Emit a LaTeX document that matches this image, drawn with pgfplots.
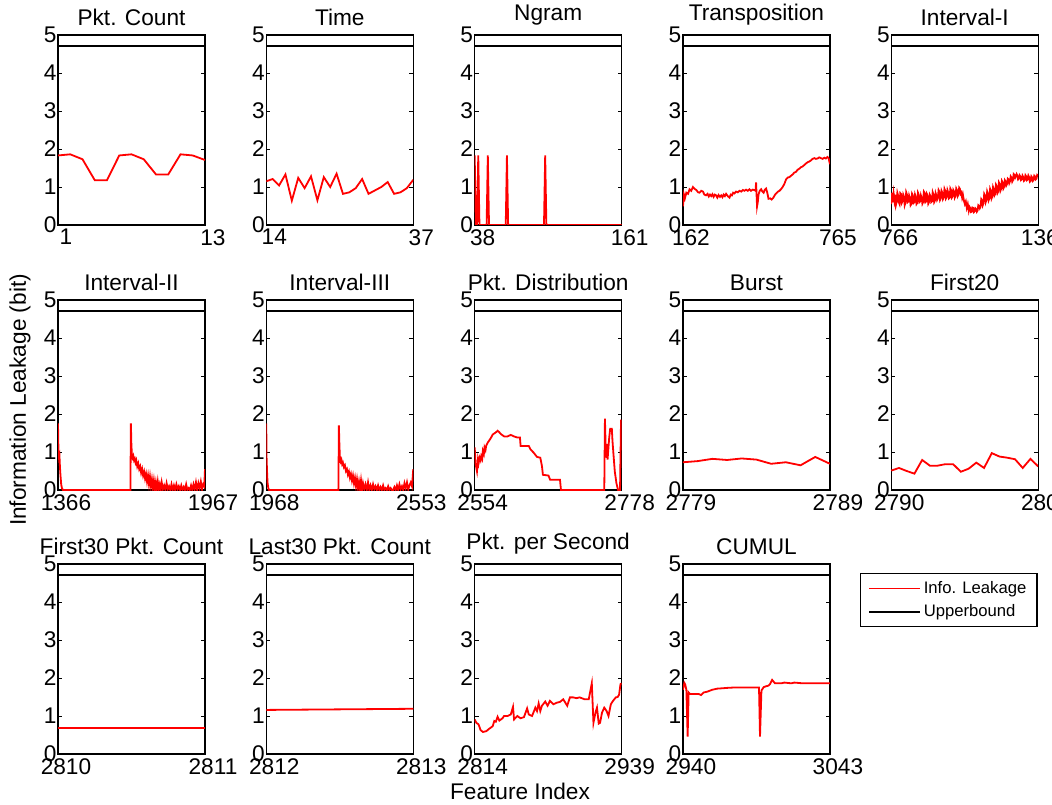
\documentclass[border=0pt]{standalone}
\usepackage{fontspec}
\setmainfont{Liberation Sans}
\usepackage{pgfplots}
\pgfplotsset{compat=1.18}
\pgfplotsset{
  leak/.style={scale only axis, width=110.25pt, height=142.5pt, anchor=south west,
    ymin=0, ymax=5, ytick={0,1,2,3,4,5}, tick align=inside, major tick length=3pt,
    axis line style={line width=0.9pt}, every tick/.style={black,line width=0.7pt},
    tick label style={font=\fontsize{17}{17}\selectfont, inner sep=1pt},
    yticklabel style={xshift=0pt}, xticklabel style={yshift=-2pt, xshift=6pt},
    title style={font=\fontsize{17}{17}\selectfont, yshift=-2.5pt},
    scaled x ticks=false, /pgf/number format/1000 sep={},
    /pgf/number format/assume math mode=true},
  inf/.style={red, line width=1.35pt},
  ub/.style={black, line width=1.5pt}}
\begin{document}
\begin{tikzpicture}
\useasboundingbox (0,0) rectangle (789pt,603pt);
\clip (0,0) rectangle (789pt,603pt);
% row 1
\begin{axis}[leak, at={(43.5pt,434.25pt)}, xmin=1, xmax=13, xtick={1,13}, title={Pkt. Count}]
\addplot[inf] coordinates {(1,1.83)(2,1.86)(3,1.73)(4,1.18)(5,1.18)(6,1.83)(7,1.86)(8,1.73)(9,1.33)(10,1.33)(11,1.86)(12,1.83)(13,1.71)};
\addplot[ub] coordinates {(1,4.7)(13,4.7)};
\end{axis}
\begin{axis}[leak, at={(199.7pt,434.25pt)}, xmin=14, xmax=37, xtick={14,37}, title={Time}]
\addplot[inf] coordinates {(14,1.15)(15,1.21)(16,1.04)(17,1.33)(18,0.64)(19,1.24)(20,0.97)(21,1.28)(22,0.65)(23,1.26)(24,1.0)(25,1.35)(26,0.82)(27,0.86)(28,0.97)(29,1.21)(30,0.82)(31,0.91)(32,1.0)(33,1.13)(34,0.82)(35,0.86)(36,0.97)(37,1.19)};
\addplot[ub] coordinates {(14,4.7)(37,4.7)};
\end{axis}
\begin{axis}[leak, at={(356pt,434.25pt)}, xmin=38, xmax=161, xtick={38,161}, title={Ngram}]
\addplot[inf] coordinates {(38,1.83)(39,0)(40,0)(41,1.83)(42,0)(48,0)(49,1.83)(50,0)(64,0)(65,1.83)(66,0)(96,0)(97,1.83)(98,0)(161,0)};
\addplot[ub] coordinates {(38,4.7)(161,4.7)};
\end{axis}
\begin{axis}[leak, at={(512.2pt,434.25pt)}, xmin=162, xmax=765, xtick={162,765}, title={Transposition}]
\addplot[inf] coordinates {(162,0.49)(166,0.8)(170,0.7)(176,0.85)(183,0.82)(189,0.94)(196,0.9)(203,1.0)(210,0.95)(217,0.92)(224,0.86)(230,0.85)(237,0.9)(244,0.88)(250,0.8)(257,0.78)(263,0.82)(268,0.75)(273,0.8)(278,0.76)(283,0.81)(288,0.74)(293,0.8)(298,0.78)(303,0.72)(308,0.79)(314,0.74)(319,0.78)(324,0.73)(329,0.8)(334,0.76)(339,0.82)(346,0.76)(353,0.72)(358,0.8)(363,0.78)(368,0.85)(373,0.83)(380,0.88)(387,0.86)(394,0.9)(401,0.88)(408,0.92)(414,0.9)(421,0.93)(428,0.9)(435,0.94)(441,0.9)(448,0.93)(455,0.92)(460,0.9)(462,1.12)(464,0.8)(466,0.49)(469,0.6)(472,0.8)(477,0.9)(483,0.94)(488,0.88)(493,0.85)(498,0.93)(503,0.96)(508,0.85)(513,0.69)(520,0.7)(526,0.67)(533,0.72)(540,0.8)(546,0.84)(552,0.88)(558,0.9)(564,0.94)(571,1.0)(578,1.08)(585,1.2)(592,1.25)(599,1.26)(606,1.3)(612,1.33)(619,1.38)(626,1.4)(632,1.45)(639,1.48)(646,1.52)(653,1.54)(660,1.58)(667,1.62)(673,1.65)(680,1.67)(687,1.7)(694,1.74)(701,1.76)(707,1.74)(714,1.75)(721,1.78)(728,1.76)(735,1.74)(742,1.77)(748,1.75)(755,1.79)(760,1.75)(765,1.6)};
\addplot[ub] coordinates {(162,4.7)(765,4.7)};
\end{axis}
\begin{axis}[leak, at={(668.4pt,434.25pt)}, xmin=766, xmax=1365, xtick={766,1365}, title={Interval-I}]
\addplot[inf] coordinates {(766,0.55)(770,0.85)(773,0.6)(776,0.82)(779,0.65)(782,0.8)(785,0.52)(788,0.6)(791,0.85)(794,0.78)(797,0.6)(800,0.55)(803,0.84)(806,0.82)(809,0.58)(812,0.62)(815,0.8)(818,0.75)(821,0.52)(824,0.58)(827,0.86)(830,0.8)(833,0.6)(836,0.62)(839,0.78)(842,0.72)(845,0.52)(848,0.55)(851,0.82)(854,0.78)(857,0.58)(860,0.6)(863,0.8)(866,0.74)(869,0.55)(872,0.58)(875,0.85)(878,0.8)(881,0.6)(884,0.62)(887,0.78)(890,0.72)(893,0.56)(896,0.6)(899,0.88)(902,0.85)(905,0.6)(908,0.62)(911,0.82)(914,0.78)(917,0.56)(920,0.6)(923,0.8)(926,0.76)(929,0.6)(932,0.62)(935,0.86)(938,0.8)(941,0.6)(944,0.64)(947,0.84)(950,0.78)(953,0.66)(956,0.7)(959,0.92)(962,0.88)(965,0.66)(968,0.7)(971,0.9)(974,0.85)(977,0.68)(980,0.72)(983,0.95)(986,0.9)(989,0.7)(992,0.74)(995,0.92)(998,0.86)(1001,0.7)(1004,0.72)(1007,0.96)(1010,0.92)(1013,0.72)(1016,0.75)(1019,0.92)(1022,0.88)(1025,0.72)(1028,0.76)(1031,0.96)(1034,0.92)(1037,0.76)(1040,0.8)(1043,0.98)(1046,0.95)(1049,0.82)(1052,0.85)(1055,0.72)(1058,0.8)(1062,0.65)(1066,0.55)(1070,0.62)(1074,0.45)(1078,0.55)(1082,0.38)(1085,0.48)(1088,0.45)(1091,0.34)(1094,0.35)(1097,0.46)(1100,0.45)(1103,0.34)(1106,0.36)(1109,0.44)(1112,0.42)(1115,0.35)(1118,0.38)(1121,0.52)(1124,0.5)(1127,0.44)(1130,0.48)(1133,0.68)(1136,0.65)(1139,0.52)(1142,0.58)(1145,0.82)(1148,0.78)(1151,0.6)(1154,0.66)(1157,0.88)(1160,0.82)(1163,0.65)(1166,0.7)(1169,0.95)(1172,0.9)(1175,0.7)(1178,0.75)(1181,1.0)(1184,0.95)(1187,0.78)(1190,0.82)(1193,1.06)(1196,1.02)(1199,0.84)(1202,0.88)(1205,1.12)(1208,1.08)(1211,0.9)(1214,0.95)(1217,1.16)(1220,1.12)(1223,0.96)(1226,1.0)(1229,1.18)(1232,1.15)(1235,1.04)(1238,1.08)(1241,1.22)(1244,1.2)(1247,1.1)(1250,1.15)(1253,1.28)(1256,1.25)(1259,1.14)(1262,1.18)(1265,1.34)(1268,1.32)(1271,1.24)(1274,1.28)(1277,1.34)(1280,1.3)(1283,1.2)(1286,1.22)(1289,1.31)(1292,1.28)(1295,1.18)(1298,1.2)(1301,1.3)(1304,1.26)(1307,1.16)(1310,1.18)(1313,1.31)(1316,1.28)(1319,1.18)(1322,1.2)(1325,1.3)(1328,1.26)(1331,1.14)(1334,1.16)(1337,1.28)(1340,1.25)(1343,1.16)(1346,1.18)(1349,1.3)(1352,1.28)(1355,1.2)(1358,1.22)(1361,1.32)(1365,1.3)};
\addplot[ub] coordinates {(766,4.7)(1365,4.7)};
\end{axis}
% row 2
\begin{axis}[leak, at={(43.5pt,235.5pt)}, xmin=1366, xmax=1967, xtick={1366,1967}, title={Interval-II}]
\addplot[inf] coordinates {(1366,1.75)(1368,1.0)(1370,0.85)(1372,0.9)(1374,0.6)(1376,0.4)(1379,0.15)(1382,0.05)(1386,0)(1662,0)(1664,1.75)(1666,1.2)(1668,0.95)(1671,0.85)(1674,0.9)(1677,0.78)(1680,0.82)(1683,0.72)(1686,0.78)(1690,0.62)(1694,0.7)(1698,0.55)(1702,0.62)(1706,0.45)(1710,0.55)(1714,0.38)(1718,0.48)(1722,0.3)(1726,0.42)(1730,0.22)(1734,0.38)(1738,0.15)(1742,0.35)(1746,0.1)(1750,0.28)(1754,0.05)(1758,0.25)(1762,0.02)(1766,0.2)(1770,0)(1774,0.22)(1778,0.03)(1782,0.15)(1786,0)(1790,0.2)(1795,0.02)(1800,0.12)(1805,0)(1810,0.18)(1815,0.02)(1820,0.1)(1825,0)(1830,0.15)(1835,0)(1840,0.12)(1845,0)(1850,0.15)(1855,0.02)(1860,0.1)(1865,0)(1870,0.12)(1875,0)(1880,0.08)(1885,0)(1890,0.15)(1895,0)(1900,0.05)(1905,0)(1910,0.12)(1915,0)(1920,0.15)(1925,0.02)(1930,0.2)(1935,0)(1940,0.18)(1945,0.05)(1950,0.22)(1955,0.02)(1960,0.15)(1964,0.1)(1967,0.55)};
\addplot[ub] coordinates {(1366,4.7)(1967,4.7)};
\end{axis}
\begin{axis}[leak, at={(199.7pt,235.5pt)}, xmin=1968, xmax=2553, xtick={1968,2553}, title={Interval-III}]
\addplot[inf] coordinates {(1968,1.75)(1969,0.9)(1971,0.5)(1973,0.2)(1976,0.05)(1979,0)(2255,0)(2257,1.7)(2259,1.2)(2261,0.85)(2264,0.75)(2267,0.8)(2270,0.68)(2273,0.72)(2277,0.6)(2281,0.65)(2285,0.5)(2289,0.55)(2293,0.4)(2297,0.48)(2301,0.32)(2305,0.42)(2309,0.25)(2313,0.38)(2317,0.18)(2321,0.32)(2325,0.1)(2329,0.28)(2333,0.05)(2337,0.22)(2341,0.02)(2345,0.25)(2349,0)(2353,0.18)(2358,0.02)(2363,0.15)(2368,0)(2373,0.2)(2378,0)(2383,0.12)(2388,0)(2393,0.15)(2398,0.02)(2403,0.1)(2408,0)(2413,0.12)(2418,0)(2423,0.08)(2428,0)(2433,0.12)(2438,0)(2443,0.05)(2448,0)(2453,0.1)(2458,0)(2463,0.05)(2468,0)(2473,0)(2478,0.08)(2483,0)(2488,0.12)(2493,0)(2498,0.15)(2503,0.02)(2508,0.1)(2513,0)(2518,0.18)(2523,0.05)(2528,0.2)(2533,0.02)(2538,0.12)(2543,0.2)(2548,0.1)(2553,0.55)};
\addplot[ub] coordinates {(1968,4.7)(2553,4.7)};
\end{axis}
\begin{axis}[leak, at={(356pt,235.5pt)}, xmin=2554, xmax=2778, xtick={2554,2778}, title={Pkt. Distribution}]
\addplot[inf] coordinates {(2554,1.12)(2555.5,0.67)(2557.5,0.49)(2559,0.8)(2560,0.7)(2561.5,0.85)(2563,0.78)(2564,0.89)(2565.5,0.82)(2566.5,1.03)(2568,0.95)(2569,1.12)(2570.5,1.05)(2571.5,1.16)(2574,1.25)(2576.5,1.31)(2579,1.38)(2581.5,1.46)(2584,1.49)(2586.5,1.52)(2589,1.56)(2591.5,1.52)(2594,1.47)(2599,1.41)(2604,1.41)(2609,1.45)(2614,1.41)(2619,1.38)(2623,1.38)(2624,1.16)(2636.5,1.16)(2639,1.07)(2644,0.98)(2649,0.87)(2654,0.85)(2656.5,0.63)(2658,0.4)(2666.5,0.38)(2669,0.27)(2684,0.27)(2685.5,0)(2751.5,0)(2752.5,1.88)(2754,0.85)(2755.5,1.21)(2756.5,0.8)(2759,1.38)(2760.5,1.61)(2763,1.61)(2764,1.29)(2765.5,0.94)(2767.5,0.49)(2770,0.18)(2772.5,0)(2775.5,0)(2777,1.83)(2778,1.83)};
\addplot[ub] coordinates {(2554,4.7)(2778,4.7)};
\end{axis}
\begin{axis}[leak, at={(512.2pt,235.5pt)}, xmin=2779, xmax=2789, xtick={2779,2789}, title={Burst}]
\addplot[inf] coordinates {(2779,0.73)(2780,0.76)(2781,0.82)(2782,0.79)(2783,0.83)(2784,0.8)(2785,0.69)(2786,0.73)(2787,0.65)(2788,0.87)(2789,0.69)};
\addplot[ub] coordinates {(2779,4.7)(2789,4.7)};
\end{axis}
\begin{axis}[leak, at={(668.4pt,235.5pt)}, xmin=2790, xmax=2809, xtick={2790,2809}, title={First20}]
\addplot[inf] coordinates {(2790,0.51)(2791,0.58)(2792,0.5)(2793,0.43)(2794,0.79)(2795,0.64)(2796,0.64)(2797,0.68)(2798,0.68)(2799,0.48)(2800,0.56)(2801,0.72)(2802,0.58)(2803,0.97)(2804,0.88)(2805,0.85)(2806,0.81)(2807,0.58)(2808,0.82)(2809,0.62)};
\addplot[ub] coordinates {(2790,4.7)(2809,4.7)};
\end{axis}
% row 3
\begin{axis}[leak, at={(43.5pt,37.5pt)}, xmin=2810, xmax=2811, xtick={2810,2811}, title={First30 Pkt. Count}]
\addplot[inf] coordinates {(2810,0.69)(2811,0.69)};
\addplot[ub] coordinates {(2810,4.7)(2811,4.7)};
\end{axis}
\begin{axis}[leak, at={(199.7pt,37.5pt)}, xmin=2812, xmax=2813, xtick={2812,2813}, title={Last30 Pkt. Count}]
\addplot[inf] coordinates {(2812,1.16)(2813,1.19)};
\addplot[ub] coordinates {(2812,4.7)(2813,4.7)};
\end{axis}
\begin{axis}[leak, at={(356pt,37.5pt)}, xmin=2814, xmax=2939, xtick={2814,2939}, title={Pkt. per Second}]
\addplot[inf] coordinates {(2814,0.91)(2815.4,0.82)(2817.3,0.78)(2819,0.63)(2821,0.58)(2823.8,0.6)(2826.6,0.67)(2829.3,0.73)(2830.7,0.87)(2832,0.85)(2833.5,0.98)(2835,0.88)(2837.7,0.94)(2839,1.0)(2842,1.0)(2844.7,1.04)(2846.6,1.24)(2847.5,0.91)(2850.3,1.0)(2853,0.94)(2855.9,0.97)(2858.6,1.2)(2860,1.04)(2862.8,1.0)(2865.6,1.22)(2867,1.13)(2868.4,1.33)(2869.8,1.13)(2871.2,1.27)(2874,1.38)(2876,1.27)(2878,1.4)(2881,1.31)(2883.8,1.35)(2886.5,1.37)(2889.3,1.44)(2892.7,1.27)(2895,1.49)(2897.7,1.49)(2900.5,1.47)(2903.3,1.49)(2907.5,1.44)(2911,1.44)(2913.6,1.86)(2915,0.82)(2916.7,1.09)(2918,1.22)(2919.5,0.8)(2920.6,0.82)(2922.3,1.09)(2924.2,1.22)(2926.2,1.13)(2927.8,1.0)(2929.8,1.31)(2931.7,1.4)(2934,1.49)(2935.6,1.5)(2936.8,1.56)(2938,1.84)(2939,1.86)};
\addplot[ub] coordinates {(2814,4.7)(2939,4.7)};
\end{axis}
\begin{axis}[leak, at={(512.2pt,37.5pt)}, xmin=2940, xmax=3043, xtick={2940,3043}, title={CUMUL},
  legend style={at={(1.204,0.953)}, anchor=north west, draw=black, line width=0.8pt,
    font=\fontsize{12.5}{15}\selectfont, inner xsep=6pt, inner ysep=4pt, row sep=3pt,
    nodes={inner sep=2pt}},
  legend cell align=left,
  legend image code/.code={\draw[#1] (0pt,0pt) -- (38pt,0pt);}]
\addplot[inf] coordinates {(2940,1.69)(2941,1.87)(2941.6,1.83)(2942.4,1.69)(2943.3,0.46)(2944,1.62)(2945,1.58)(2947.5,1.58)(2951,1.58)(2952.7,1.55)(2954.6,1.62)(2957,1.64)(2960.5,1.69)(2964,1.72)(2967.6,1.73)(2971,1.74)(2975.8,1.75)(2985,1.75)(2993.3,1.75)(2994,0.46)(2995,1.67)(2996.6,1.76)(2998,1.78)(3000,1.8)(3001,1.84)(3002.5,1.95)(3004.5,1.86)(3009,1.86)(3011,1.88)(3016,1.86)(3018,1.88)(3024,1.86)(3043,1.86)};
\addlegendentry{Info. Leakage}
\addplot[ub] coordinates {(2940,4.7)(3043,4.7)};
\addlegendentry{Upperbound}
\end{axis}
\node[rotate=90, font=\fontsize{17}{17}\selectfont] at (15pt,303pt) {Information Leakage (bit)};
\node[font=\fontsize{17}{17}\selectfont] at (390pt,9.75pt) {Feature Index};
\end{tikzpicture}
\end{document}
